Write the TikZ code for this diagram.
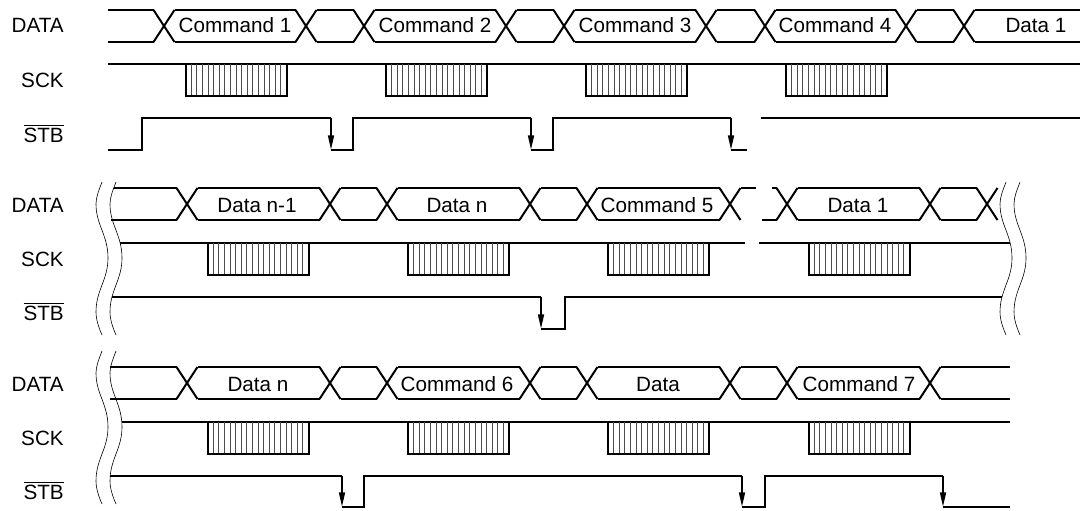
\documentclass[tikz,border=0pt]{standalone}
\usepackage{fontspec}
\setmainfont{Liberation Sans}
\usetikzlibrary{arrows.meta}
\tikzset{
	sigline/.style={line width=1.5pt, line cap=butt, line join=miter},
	hatchline/.style={line width=0.6pt, color=black!70},
	wavyline/.style={line width=0.45pt},
	falledge/.style={sigline, -{Triangle[length=11pt,width=4.4pt]}},
	siglabel/.style={anchor=base east, inner sep=0pt, font=\fontsize{15.5pt}{18pt}\selectfont},
	buslabel/.style={anchor=base, inner sep=0pt, font=\fontsize{15.5pt}{18pt}\selectfont}
}
\def\xing(#1,#2){\draw[sigline] (#1-10.5,#2-16) -- (#1+10.5,#2+16); \draw[sigline] (#1-10.5,#2+16) -- (#1+10.5,#2-16);}
\def\buslane(#1:#2,#3){\draw[sigline] (#1,#3-16) -- (#2,#3-16); \draw[sigline] (#1,#3+16) -- (#2,#3+16);}
\def\sckbox(#1,#2){\foreach \k in {1,...,17} {\draw[hatchline] ({#1+\k*5.61},#2) -- ({#1+\k*5.61},#2+32);} \draw[sigline] (#1,#2) -- (#1,#2+32) -- (#1+101,#2+32) -- (#1+101,#2);}
\def\wavy(#1,#2){\draw[wavyline,shift={(#1,#2)}] (6,0) .. controls (3,8) and (0,15) .. (0,22) .. controls (0,43) and (12,53) .. (12,76) .. controls (12,98) and (0,108) .. (0,130) .. controls (0,138) and (3,146) .. (6,153);}
\begin{document}
\begin{tikzpicture}[x=0.75pt,y=-0.75pt]
			\useasboundingbox (0,0) rectangle (1080,510);
			
			%%%%% FIRST ROW %%%%%
			
			\node[siglabel] (data1) at (64,33) {DATA};
			\node[siglabel] (sck1) at (64,88) {SCK};
			\node[siglabel] (stb1) at (64,142) {$\overline{\hbox{STB}}$};
			
			\buslane(108:153.5,26);
			\xing(164,26);
			\buslane(174.5:295.5,26);
			\xing(306,26);
			\buslane(316.5:353.5,26);
			\xing(364,26);
			\buslane(374.5:495.5,26);
			\xing(506,26);
			\buslane(516.5:553.5,26);
			\xing(564,26);
			\buslane(574.5:695.5,26);
			\xing(706,26);
			\buslane(716.5:754.5,26);
			\xing(765,26);
			\buslane(775.5:895.5,26);
			\xing(906,26);
			\buslane(916.5:953.5,26);
			\xing(964,26);
			\buslane(974.5:1080,26);
			
			\node[buslabel] (cmd1) at (235,33) {Command 1};
			\node[buslabel] (cmd2) at (435,33) {Command 2};
			\node[buslabel] (cmd3) at (635,33) {Command 3};
			\node[buslabel] (cmd4) at (835,33) {Command 4};
			\node[buslabel] (dat1) at (1036,33) {Data 1};
			
			\draw[sigline] (108,64) -- (1080,64);
			\sckbox(185.5,64);
			\sckbox(386,64);
			\sckbox(586,64);
			\sckbox(786,64);
			
			\draw[sigline] (108,150) -- (142,150) -- (142,118) -- (331,118);
			\draw[falledge] (331,117.5) -- (331,150);
			\draw[sigline] (330.5,150) -- (353,150) -- (353,118) -- (531,118);
			\draw[falledge] (531,117.5) -- (531,150);
			\draw[sigline] (530.5,150) -- (553,150) -- (553,118) -- (731,118);
			\draw[falledge] (731,117.5) -- (731,150);
			\draw[sigline] (730.5,150) -- (747,150);
			\draw[sigline] (761,118) -- (1080,118);
			
			%%%%% SECOND ROW %%%%%
			
			\node[siglabel] (data2) at (64,212) {DATA};
			\node[siglabel] (sck2) at (64,266) {SCK};
			\node[siglabel] (stb2) at (64,320) {$\overline{\hbox{STB}}$};
			
			\wavy(96,182);
			\wavy(110,182);
			\wavy(1000,182);
			\wavy(1014,182);
			
			\draw[sigline] (114,188) -- (176.5,188);
			\draw[sigline] (111,220) -- (176.5,220);
			\xing(187,204);
			\buslane(197.5:319.5,204);
			\xing(330,204);
			\buslane(340.5:376.5,204);
			\xing(387,204);
			\buslane(397.5:519.5,204);
			\xing(530,204);
			\buslane(540.5:576.5,204);
			\xing(587,204);
			\buslane(597.5:719.5,204);
			\xing(730,204);
			\draw[sigline] (740.5,188) -- (756,188);
			\draw[sigline] (772,188) -- (776.5,188);
			\draw[sigline] (762,220) -- (776.5,220);
			\xing(787,204);
			\buslane(797.5:919.5,204);
			\xing(930,204);
			\buslane(940.5:976.5,204);
			\xing(987,204);
			
			\node[buslabel] (datn1) at (257,212) {Data n-1};
			\node[buslabel] (datn) at (457,212) {Data n};
			\node[buslabel] (cmd5) at (657,212) {Command 5};
			\node[buslabel] (dat2) at (858,212) {Data 1};
			
			\draw[sigline] (120,243) -- (745,243);
			\draw[sigline] (759,243) -- (1010,243);
			\sckbox(207.5,243);
			\sckbox(408,243);
			\sckbox(608,243);
			\sckbox(808.5,243);
			
			\draw[sigline] (112,297) -- (541,297);
			\draw[falledge] (541,296.5) -- (541,329);
			\draw[sigline] (540.5,329) -- (565,329) -- (565,297) -- (1002,297);
			
			%%%%% THIRD ROW %%%%%
			
			\node[siglabel] (data3) at (64,391) {DATA};
			\node[siglabel] (sck3) at (64,445) {SCK};
			\node[siglabel] (stb3) at (64,499) {$\overline{\hbox{STB}}$};
			
			\wavy(96,351);
			\wavy(110,351);
			
			\buslane(110:176.5,383);
			\xing(187,383);
			\buslane(197.5:319.5,383);
			\xing(330,383);
			\buslane(340.5:376.5,383);
			\xing(387,383);
			\buslane(397.5:519.5,383);
			\xing(530,383);
			\buslane(540.5:576.5,383);
			\xing(587,383);
			\buslane(597.5:719.5,383);
			\xing(730,383);
			\buslane(740.5:776.5,383);
			\xing(787,383);
			\buslane(797.5:919.5,383);
			\xing(930,383);
			\buslane(940.5:1010,383);
			
			\node[buslabel] (datn2) at (258,391) {Data n};
			\node[buslabel] (cmd6) at (457,391) {Command 6};
			\node[buslabel] (dat3) at (658,391) {Data};
			\node[buslabel] (cmd7) at (859,391) {Command 7};
			
			\draw[sigline] (122,422) -- (1010,422);
			\sckbox(207.5,422);
			\sckbox(408,422);
			\sckbox(608,422);
			\sckbox(808.5,422);
			
			\draw[sigline] (110,476) -- (342,476);
			\draw[falledge] (342,475.5) -- (342,507);
			\draw[sigline] (341.5,507) -- (364,507) -- (364,476) -- (742,476);
			\draw[falledge] (742,475.5) -- (742,507);
			\draw[sigline] (741.5,507) -- (765,507) -- (765,476) -- (943,476);
			\draw[falledge] (943,475.5) -- (943,507);
			\draw[sigline] (942.5,507) -- (1010,507);
			
			%%%%% END %%%%%
\end{tikzpicture}
\end{document}
